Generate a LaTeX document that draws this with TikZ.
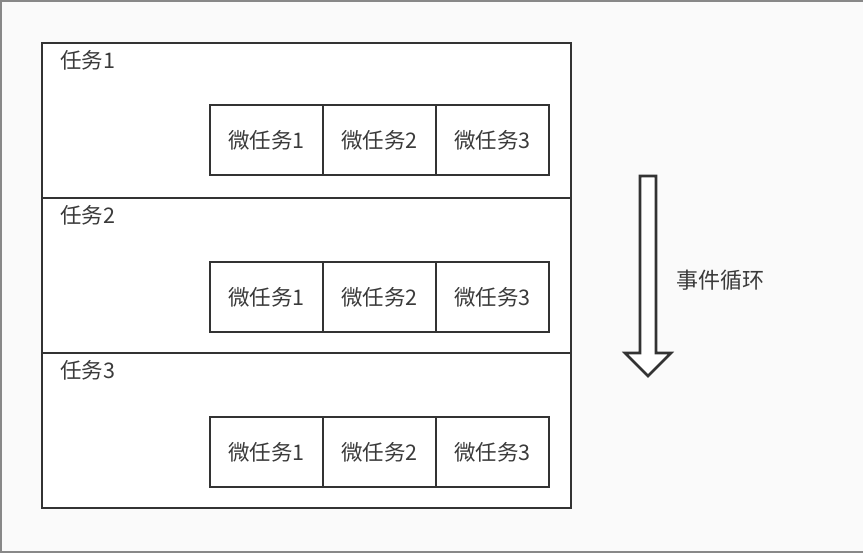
\documentclass[tikz,border=0pt]{standalone}
\usepackage{fontspec}
\setmainfont{Noto Sans CJK SC}
\usetikzlibrary{arrows.meta}
\definecolor{ln}{HTML}{333333}
\definecolor{tx}{HTML}{3A3A3A}
\definecolor{bg}{HTML}{FAFAFA}
\definecolor{fr}{HTML}{888888}
\tikzset{
  x=1pt, y=-1pt,
  taskbox/.style={draw=ln, line width=2.6pt, fill=white},
  microbox/.style={draw=ln, line width=2.6pt, fill=white, minimum width=113pt, minimum height=70pt, inner sep=0pt, font=\fontsize{21.5}{21.5}\selectfont, text=tx},
  tasklabel/.style={anchor=west, font=\fontsize{21.5}{21.5}\selectfont, text=tx, inner sep=0pt},
}
\begin{document}
\begin{tikzpicture}
\useasboundingbox (0,0) rectangle (863,553);
\fill[bg] (0,0) rectangle (863,553);
\draw[fr, line width=2pt] (863,1) -- (1,1) -- (1,552) -- (863,552);
% task boxes
\foreach \i/\y in {1/43,2/198,3/353}{
  \draw[taskbox] (42,\y) rectangle (571,\y+155);
  \node[tasklabel] (t\i) at (60,\y+17) {任务\i};
}
\foreach \i/\y in {1/140,2/297,3/452}{
  \node[microbox] (m\i a) at (266.5,\y) {微任务1};
  \node[microbox] (m\i b) at (379.5,\y) {微任务2};
  \node[microbox] (m\i c) at (492.5,\y) {微任务3};
}
% arrow
\draw[ln, line width=2.6pt, fill=white, line join=miter]
  (640,176) -- (656,176) -- (656,353) -- (671,353) -- (648,376) -- (625,353) -- (640,353) -- cycle;
\node[anchor=west, inner sep=0pt, font=\fontsize{22}{22}\selectfont, text=tx] (loop) at (676,280) {事件循环};
\end{tikzpicture}
\end{document}
